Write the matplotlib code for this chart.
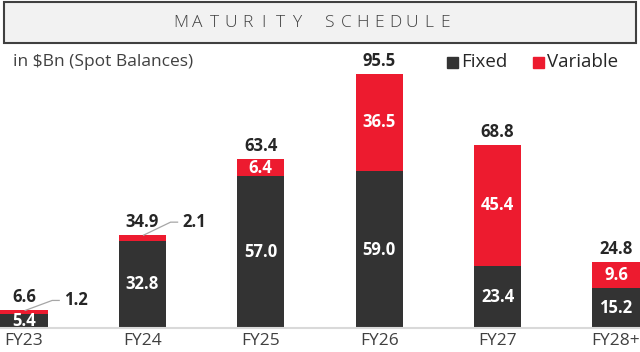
import matplotlib.pyplot as plt
import matplotlib.transforms as mtransforms
from matplotlib.patches import Rectangle
import numpy as np

plt.rcParams['font.family'] = ['Open Sans', 'DejaVu Sans']

years = ["FY23", "FY24", "FY25", "FY26", "FY27", "FY28+"]
fixed = [5.4, 32.8, 57.0, 59.0, 23.4, 15.2]
variable = [1.2, 2.1, 6.4, 36.5, 45.4, 9.6]
totals = [6.6, 34.9, 63.4, 95.5, 68.8, 24.8]

dark = "#333333"
red = "#ed1b2f"
txt = "#262626"

fig = plt.figure(figsize=(6.4, 3.52), dpi=100)
ax = fig.add_axes([0, 24 / 352, 1, 278 / 352])
x = np.arange(len(years))
w = 0.397
ax.bar(x, fixed, w, color=dark, zorder=2)
ax.bar(x, variable, w, bottom=fixed, color=red, zorder=2)
ax.set_xlim(-0.2027, 5.2027)
ax.set_ylim(0, 104.5)
for s in ax.spines.values():
    s.set_visible(False)
ax.axhline(0, color="#d9d9d9", lw=1.5, zorder=3, clip_on=False)
ax.set_yticks([])
ax.set_xticks(x)
ax.set_xticklabels(years, fontsize=12.5, color="#404040")
ax.tick_params(axis="x", length=0, pad=3.5)

# labels inside bars (FY23/FY24 variable parts are too thin)
for i in range(len(years)):
    ax.text(x[i], fixed[i] / 2, f"{fixed[i]:.1f}", ha="center", va="center",
            color="white", fontsize=12, fontweight="bold", zorder=4)
    if variable[i] > 5:
        ax.text(x[i], fixed[i] + variable[i] / 2, f"{variable[i]:.1f}", ha="center",
                va="center", color="white", fontsize=12, fontweight="bold", zorder=4)
    ax.annotate(f"{totals[i]:.1f}", (x[i], totals[i]), xytext=(0, 3),
                textcoords="offset points", ha="center", va="bottom",
                color=txt, fontsize=12, fontweight="bold")

# leader lines for the thin variable slices
fig.canvas.draw()
for i, rise in [(0, 10), (1, 13)]:
    px, py = ax.transData.transform((x[i] + 0.01, totals[i]))
    tr = mtransforms.Affine2D().translate(px, py)
    ax.plot([0, 27, 34], [0, rise, rise], color="#a6a6a6", lw=0.9,
            transform=tr, clip_on=False, zorder=5)
    ax.text(px + 51, py + rise, f"{variable[i]:.1f}", transform=None,
            ha="center", va="center", color=txt, fontsize=12, fontweight="bold")

# title box
fig.patches.append(Rectangle((4 / 640, 1 - 43 / 352), 632 / 640, 41 / 352,
                             transform=fig.transFigure, facecolor="#f2f2f2",
                             edgecolor="#404040", lw=1.5))
title = "MATURITY SCHEDULE"
for k, ch in enumerate(title):
    fig.text((181 + k * 16.5) / 640, 1 - 23 / 352, ch, ha="center", va="center",
             fontsize=12.5, color="#404040", fontweight="light")

fig.text(13 / 640, 1 - 62 / 352, "in $Bn (Spot Balances)", ha="left", va="center",
         fontsize=12.5, color="#404040")

# legend
for sx, col, lab in [(447, dark, "Fixed"), (533, red, "Variable")]:
    fig.patches.append(Rectangle((sx / 640, 1 - 68 / 352), 11 / 640, 11 / 352,
                                 transform=fig.transFigure, color=col))
    fig.text((sx + 14) / 640, 1 - 62 / 352, lab, ha="left", va="center",
             fontsize=13.5, color="#262626")

fig.savefig("out.png", dpi=100)
